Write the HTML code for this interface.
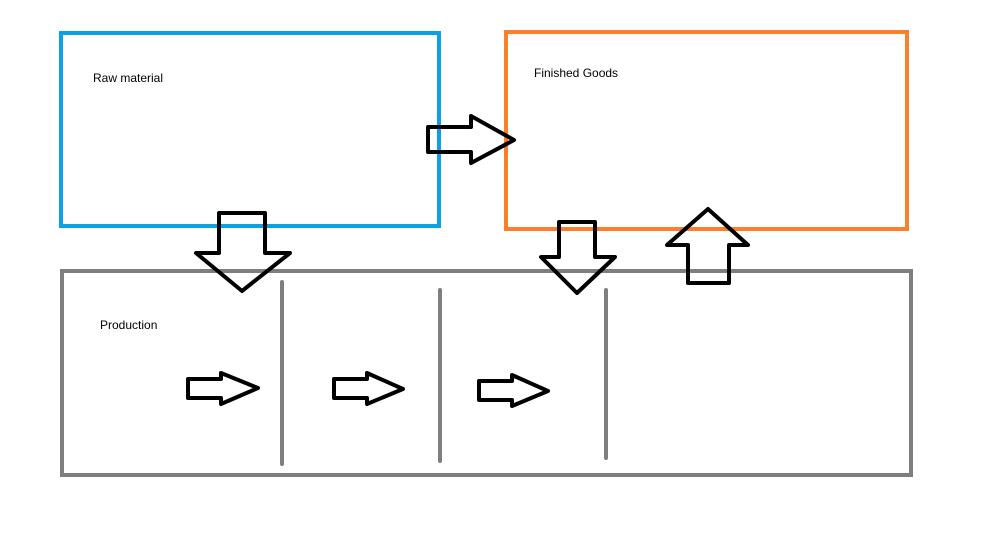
<!DOCTYPE html>
<html><head><style>body{margin:0;background:#fff}svg{display:block}text{font-family:"Liberation Sans",sans-serif;font-size:12px;fill:#000}</style></head><body>
<svg width="1008" height="533" viewBox="0 0 1008 533">
<rect x="61" y="33" width="378" height="193" fill="none" stroke="#0ba1e2" stroke-width="4"/>
<rect x="506" y="32" width="401" height="197" fill="none" stroke="#fb7f2c" stroke-width="4"/>
<rect x="62" y="271" width="849" height="204" fill="none" stroke="#7f7f7f" stroke-width="4"/>
<g stroke="#7f7f7f" stroke-width="4" stroke-linecap="round">
<line x1="282" y1="282" x2="282" y2="464"/>
<line x1="440" y1="290" x2="440" y2="461"/>
<line x1="606" y1="290" x2="606" y2="458"/>
</g>
<text x="93" y="82">Raw material</text>
<text x="534" y="77">Finished Goods</text>
<text x="100" y="329">Production</text>
<g fill="none" stroke="#000" stroke-width="4" stroke-linejoin="round">
<polygon points="428,127 471,127 471,116 514,140 471,163 471,152 428,152"/>
<polygon points="219,213 265,213 265,253 290,253 242,291 196,253 219,253"/>
<polygon points="559,222 595,222 595,257 615,257 577,293 541,257 559,257"/>
<polygon points="708,209 748,245 729,245 729,283 688,283 688,245 667,245"/>
<polygon points="188,379 221,379 221,373 258,388 221,404 221,398 188,398"/>
<polygon points="334,379 367,379 367,373 403,389 367,404 367,398 334,398"/>
<polygon points="479,381 512,381 512,375 548,391 512,406 512,400 479,400"/>
</g>
</svg>
</body></html>
